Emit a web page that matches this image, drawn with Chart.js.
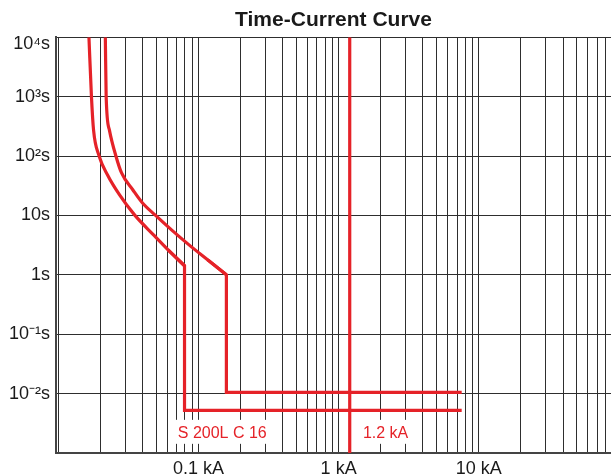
<!DOCTYPE html>
<html><head><meta charset="utf-8">
<script src="https://cdn.jsdelivr.net/npm/chart.js@4.4.1/dist/chart.umd.min.js"></script>
<style>html,body{margin:0;padding:0;background:#fff}#wrap{width:611px;height:475px}</style>
</head><body><div id="wrap"><canvas id="c" width="611" height="475"></canvas></div>
<script>
// ---- data (current in kA, time in s) ----
const lowCurveKA  = [0.0165, 0.0172, 0.0178, 0.0195, 0.0224, 0.0273, 0.0349, 0.0477, 0.0606, 0.0794];
const lowCurveS   = [10000, 981, 273, 100, 47.9, 22.1, 10.2, 4.70, 2.63, 1.42];
const lowTripKA   = [0.0794, 0.0794, 7.56];
const lowTripS    = [1.42, 0.0052, 0.0052];
const highCurveKA = [0.0216, 0.0219, 0.0231, 0.0257, 0.0282, 0.0340, 0.0398, 0.0489, 0.0641, 0.0855, 0.116, 0.158];
const highCurveS  = [10000, 981, 273, 100, 51.8, 26.8, 16.2, 10.2, 5.71, 3.19, 1.79, 1.0];
const highTripKA  = [0.158, 0.158, 7.56];
const highTripS   = [1.0, 0.0105, 0.0105];
const markerKA    = [1.2, 1.2];
const markerS     = [0.001, 10000];

const xLabelValues = [0.1, 1, 10];
const xLabelTexts  = ['0.1 kA', '1 kA', '10 kA'];
const yLabelValues = [10000, 1000, 100, 10, 1, 0.1, 0.01];
const yLabelTexts  = [['', '10\u2074s'], '10\u00B3s', '10\u00B2s', '10s', '1s', '10\u207B\u00B9s', '10\u207B\u00B2s'];

const noteTexts = ['S 200L C 16', '1.2 kA'];
const noteKA    = [0.0711, 1.49];
const noteS     = [0.0018, 0.0018];

const X_MIN = 0.0096, X_MAX = 88, Y_MIN = 0.001, Y_MAX = 10000;
const RED = '#e52228';
const GRID = '#2e2e2e';
const FONT = 'Liberation Sans, Arial, sans-serif';

function pts(xs, ys){ return xs.map((x,i)=>({x, y: ys[i]})); }
function prevPt(xs, ys){ return [{x: xs[xs.length-2], y: ys[ys.length-2]}]; }
function near(a,b){ return Math.abs(Math.log10(a) - Math.log10(b)) < 1e-6; }
function labelFor(v, vals, texts){
  for (let i=0;i<vals.length;i++) if (near(v, vals[i])) return texts[i];
  return '';
}

const xGrid = [];
for (let e=-2; e<=1; e++) for (let m=1; m<=9; m++){ const v = m*Math.pow(10,e); if (v>=X_MIN && v<=X_MAX) xGrid.push(v); }
const yGrid = [];
for (let e=-3; e<=4; e++) yGrid.push(Math.pow(10,e));

const common = {showLine:true, pointRadius:0, borderColor:RED, borderWidth:3.2, fill:false, borderJoinStyle:'miter', borderCapStyle:'butt'};

const notesPlugin = {
  id:'notes',
  beforeDatasetsDraw(chart){
    const {ctx, scales:{x, y}} = chart;
    ctx.save();
    ctx.font = '16px ' + FONT;
    ctx.textBaseline = 'alphabetic';
    ctx.textAlign = 'left';
    noteTexts.forEach((t,i)=>{
      const px = x.getPixelForValue(noteKA[i]);
      const py = y.getPixelForValue(noteS[i]);
      const w = ctx.measureText(t).width;
      ctx.fillStyle = '#fff';
      ctx.fillRect(px-2, py-18, w+4, 24);
      ctx.fillStyle = RED;
      ctx.fillText(t, px, py);
    });
    ctx.restore();
  }
};

new Chart(document.getElementById('c'), {
  type:'scatter',
  data:{datasets:[
    Object.assign({data: pts(lowCurveKA, lowCurveS), cubicInterpolationMode:'monotone'}, common),
    Object.assign({data: prevPt(lowCurveKA, lowCurveS).concat(pts(lowTripKA, lowTripS)), tension:0}, common),
    Object.assign({data: pts(highCurveKA, highCurveS), cubicInterpolationMode:'monotone'}, common),
    Object.assign({data: prevPt(highCurveKA, highCurveS).concat(pts(highTripKA, highTripS)), tension:0}, common),
    Object.assign({data: pts(markerKA, markerS), tension:0}, common)
  ]},
  options:{
    responsive:false, animation:false, devicePixelRatio:1,
    layout:{padding:0},
    plugins:{
      legend:{display:false}, tooltip:{enabled:false},
      title:{display:true, text:'Time-Current Curve', fullSize:false, color:'#1a1a1a',
        font:{family:FONT, size:21, weight:'bold'}, padding:{top:8, bottom:4}}
    },
    scales:{
      x:{type:'logarithmic', min:X_MIN, max:X_MAX,
        afterBuildTicks(s){ s.ticks = xGrid.map(v=>({value:v})); },
        afterFit(s){ s.height = 22; },
        ticks:{autoSkip:false, maxRotation:0, minRotation:0, padding:5, color:'#1a1a1a',
          font:{family:FONT, size:18}, callback:(v)=>labelFor(v, xLabelValues, xLabelTexts)},
        grid:{color:GRID, lineWidth:1, drawTicks:false},
        border:{color:'#444', width:2}
      },
      y:{type:'logarithmic', min:Y_MIN, max:Y_MAX,
        afterBuildTicks(s){ s.ticks = yGrid.map(v=>({value:v})); },
        afterFit(s){ s.width = 56; },
        ticks:{autoSkip:false, padding:6, color:'#1a1a1a',
          font:{family:FONT, size:18, lineHeight:0.8}, callback:(v)=>labelFor(v, yLabelValues, yLabelTexts)},
        grid:{color:GRID, lineWidth:1, drawTicks:false},
        border:{color:'#444', width:2}
      }
    }
  },
  plugins:[notesPlugin]
});
</script></body></html>
